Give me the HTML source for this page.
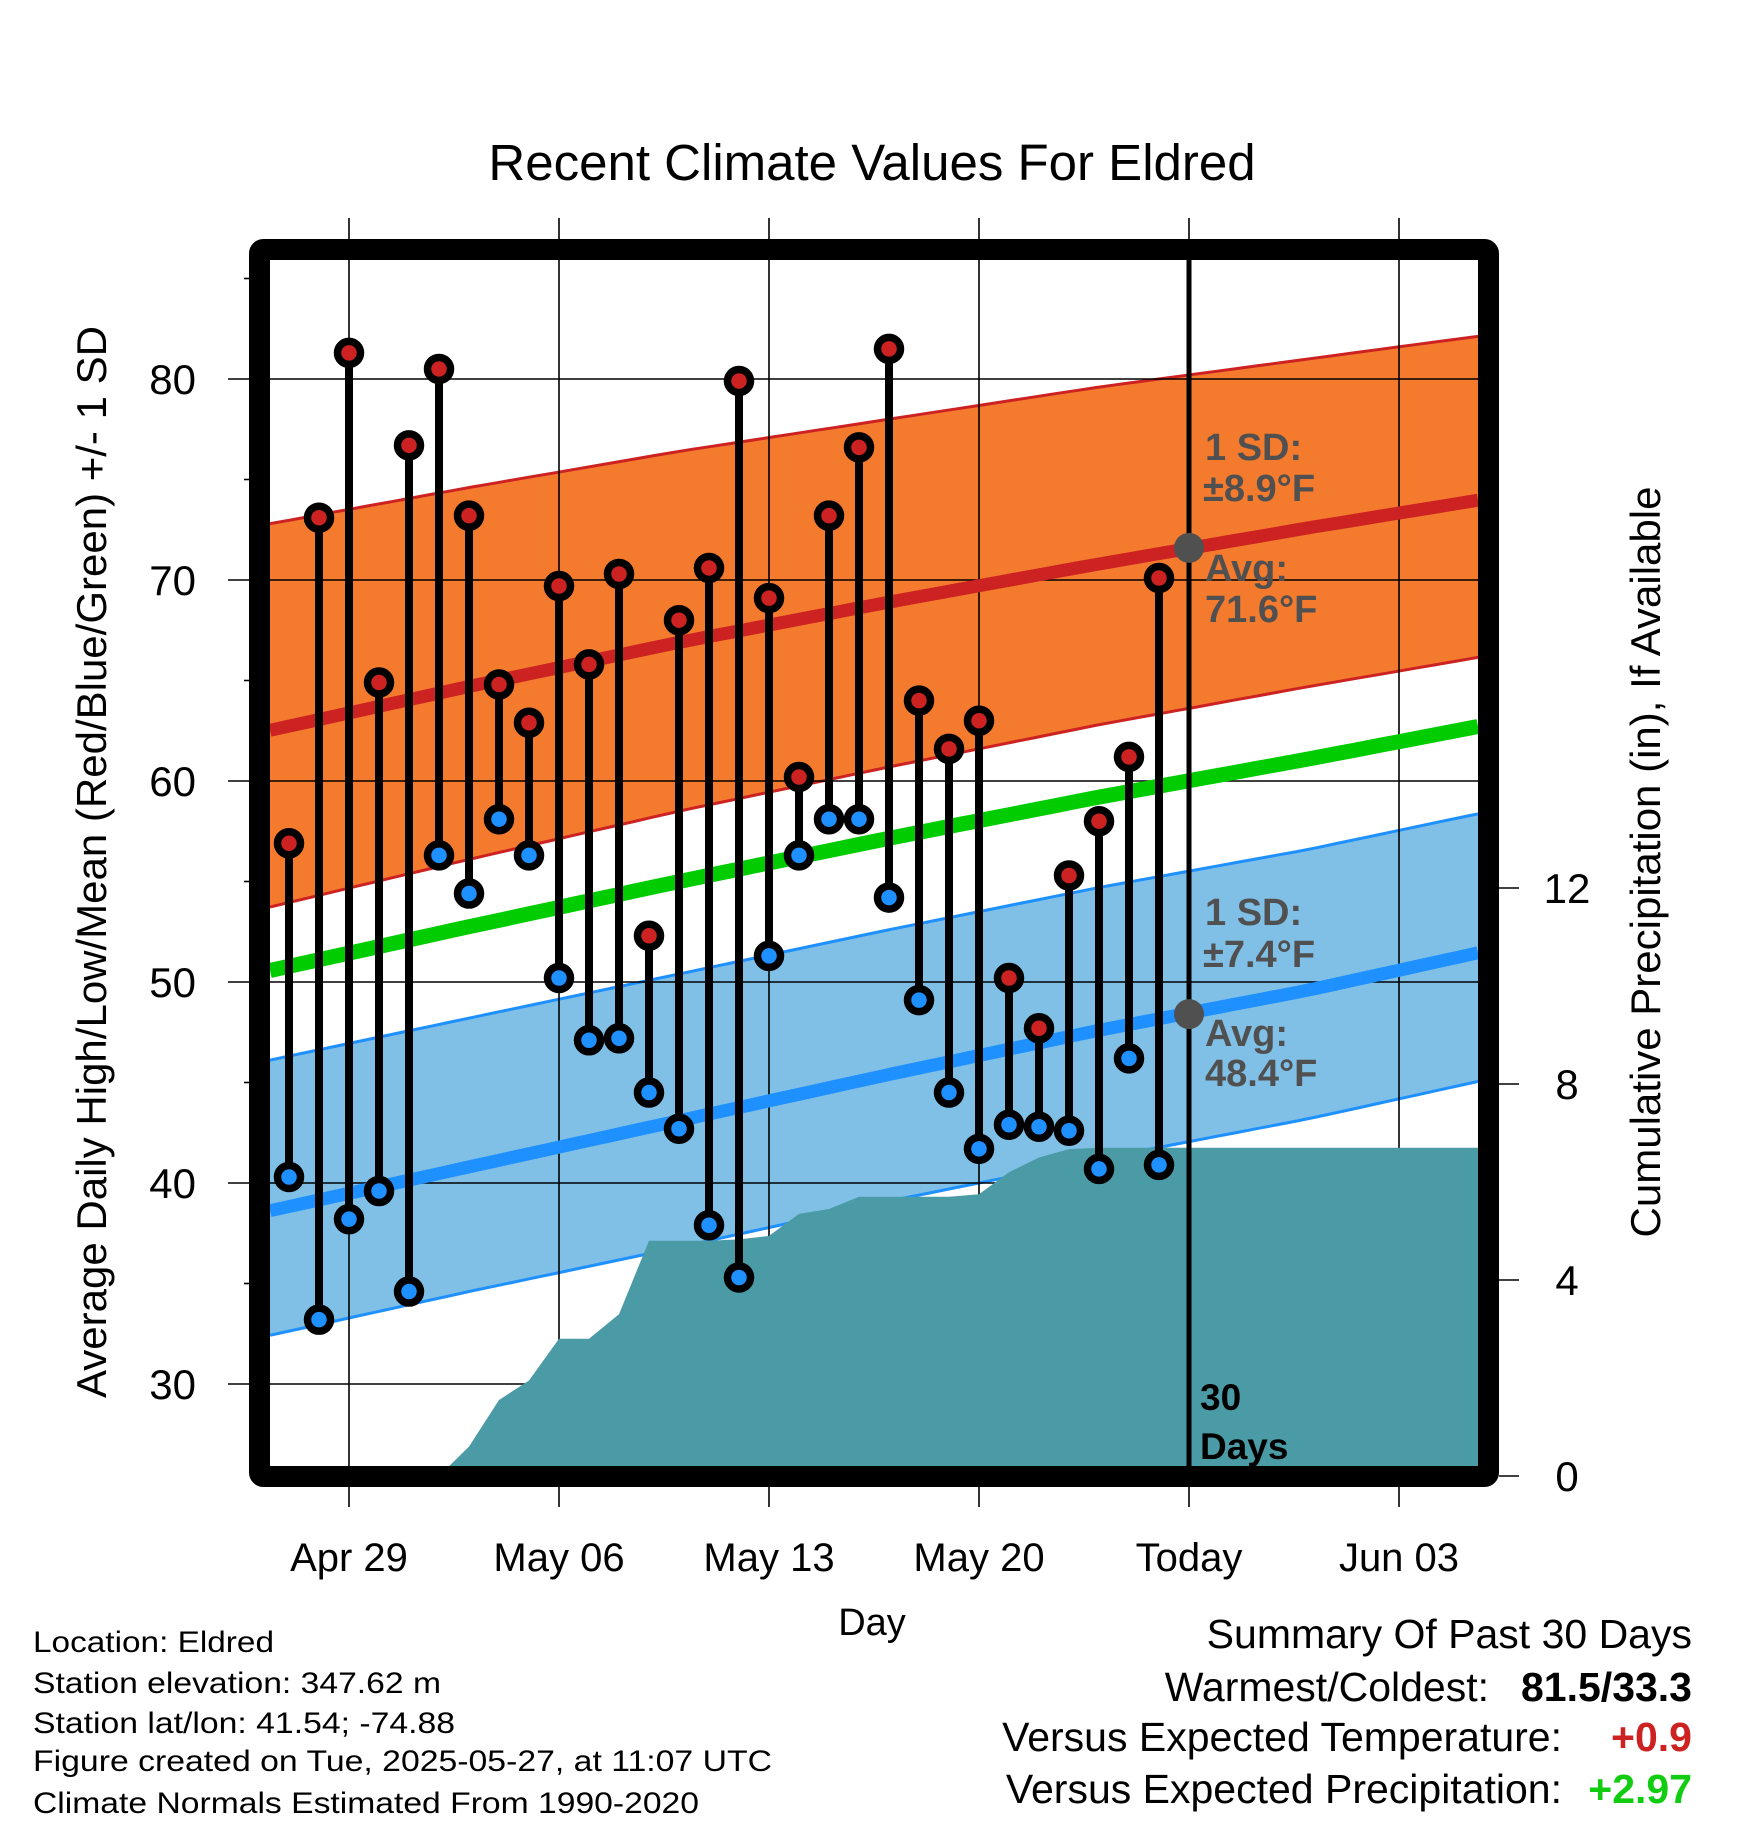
<!DOCTYPE html>
<html><head><meta charset="utf-8"><style>
html,body{margin:0;padding:0;background:#fff;}
svg{display:block;font-family:"Liberation Sans",Arial,sans-serif;}
</style></head><body>
<svg id="chart" width="1748" height="1828" viewBox="0 0 1748 1828" xmlns="http://www.w3.org/2000/svg">
<text x="872" y="180" font-size="51" text-anchor="middle">Recent Climate Values For Eldred</text>
<g id="plot"></g>
<text transform="translate(106,862) rotate(-90)" font-size="42" text-anchor="middle">Average Daily High/Low/Mean (Red/Blue/Green) +/- 1 SD</text>
<text transform="translate(1660,862) rotate(-90)" font-size="42" text-anchor="middle">Cumulative Precipitation (in), If Available</text>
<text x="872" y="1635" font-size="38" text-anchor="middle">Day</text>
<g font-size="30">
<text x="33" y="1652" textLength="241" lengthAdjust="spacingAndGlyphs">Location: Eldred</text>
<text x="33" y="1693" textLength="408" lengthAdjust="spacingAndGlyphs">Station elevation: 347.62 m</text>
<text x="33" y="1733" textLength="422" lengthAdjust="spacingAndGlyphs">Station lat/lon: 41.54; -74.88</text>
<text x="33" y="1771" textLength="739" lengthAdjust="spacingAndGlyphs">Figure created on Tue, 2025-05-27, at 11:07 UTC</text>
<text x="33" y="1813" textLength="666" lengthAdjust="spacingAndGlyphs">Climate Normals Estimated From 1990-2020</text>
</g>
<g font-size="41">
<text x="1692" y="1648" text-anchor="end">Summary Of Past 30 Days</text>
<text x="1489" y="1701" text-anchor="end">Warmest/Coldest:</text>
<text x="1692" y="1701" text-anchor="end" font-weight="bold">81.5/33.3</text>
<text x="1562" y="1751" text-anchor="end">Versus Expected Temperature:</text>
<text x="1692" y="1751" text-anchor="end" font-weight="bold" fill="#cc2222">+0.9</text>
<text x="1562" y="1803" text-anchor="end">Versus Expected Precipitation:</text>
<text x="1692" y="1803" text-anchor="end" font-weight="bold" fill="#11cc11">+2.97</text>
</g>
</svg>
<script>
// days offset from Apr 29; observations Apr 27 .. May 26
const obsDays = [-2,-1,0,1,2,3,4,5,6,7,8,9,10,11,12,13,14,15,16,17,18,19,20,21,22,23,24,25,26,27];
const highs = [56.9,73.1,81.3,64.9,76.7,80.5,73.2,64.8,62.9,69.7,65.8,70.3,52.3,68.0,70.6,79.9,69.1,60.2,73.2,76.6,81.5,64.0,61.6,63.0,50.2,47.7,55.3,58.0,61.2,70.1];
const lows = [40.3,33.2,38.2,39.6,34.6,56.3,54.4,58.1,56.3,50.2,47.1,47.2,44.5,42.7,37.9,35.3,51.3,56.3,58.1,58.1,54.2,49.1,44.5,41.7,42.9,42.8,42.6,40.7,46.2,40.9];
const precip = [0,0,0,0,0,0,0.6,1.55,1.95,2.8,2.8,3.3,4.8,4.8,4.8,4.83,4.9,5.35,5.45,5.7,5.7,5.7,5.7,5.75,6.2,6.5,6.67,6.7,6.7,6.7];
const normDays = [-3,4,11,18,25,32,39];
const normHigh = [62.4,64.7,66.9,68.9,70.8,72.6,74.3];
const sdHighUp = [10.3,9.9,9.5,9.1,8.8,8.4,8.1];
const sdHighDn = [8.8,8.6,8.4,8.2,8.0,7.9,7.8];
const normLow = [38.5,40.8,43.1,45.4,47.6,49.6,51.9];
const sdLowUp = [7.5,7.4,7.3,7.2,7.1,7.0,6.9];
const sdLowDn = [6.2,6.2,6.3,6.3,6.4,6.4,6.4];
const yTicks = [30,40,50,60,70,80];
const y2Ticks = [0,4,8,12];
const xTickDays = [0,7,14,21,28,35];
const xTickLabels = ["Apr 29","May 06","May 13","May 20","Today","Jun 03"];
const todayDay = 28;
const todayHighAvg = 71.6, todayLowAvg = 48.4;

const NS="http://www.w3.org/2000/svg";
const L=270,R=1478,T=260,B=1466;
const X=d=>349+30*d;
const Y=t=>580-(t-70)*20.1;
const YP=p=>1476-p*49;
const dMin=(L-349)/30, dMax=(R-349)/30;
const g=document.getElementById('plot');
function mk(tag,attrs,parent){const e=document.createElementNS(NS,tag);for(const k in attrs)e.setAttribute(k,attrs[k]);(parent||g).appendChild(e);return e;}
function interp(xs,ys,x){for(let i=0;i<xs.length-1;i++){if(x<=xs[i+1]||i==xs.length-2){const t=(x-xs[i])/(xs[i+1]-xs[i]);return ys[i]+t*(ys[i+1]-ys[i]);}}}
const samp=[];for(let i=0;i<=60;i++)samp.push(dMin+(dMax-dMin)*i/60);
const f=(arr,sd,s)=>d=>interp(normDays,arr,d)+s*(sd?interp(normDays,sd,d):0);
function pts(fn){return samp.map(d=>X(d).toFixed(1)+','+Y(fn(d)).toFixed(1));}
const clip=mk('clipPath',{id:'pc'});mk('rect',{x:L,y:T,width:R-L,height:B-T},clip);
const inner=mk('g',{'clip-path':'url(#pc)'});


function mkI(tag,attrs){return mk(tag,attrs,inner);}
function bandI(up,lo,fill,edge,name){
  const b=mkI('polygon',{points:pts(up).concat(pts(lo).reverse()).join(' '),fill:fill});
  
  
  const e1=mkI('polyline',{points:pts(up).join(' '),fill:'none',stroke:edge,'stroke-width':3});
  
  
  const e2=mkI('polyline',{points:pts(lo).join(' '),fill:'none',stroke:edge,'stroke-width':3});
  
  
}
bandI(f(normHigh,sdHighUp,1),f(normHigh,sdHighDn,-1),'#f47a2e','#cc2222','high-sd-band');
bandI(f(normLow,sdLowUp,1),f(normLow,sdLowDn,-1),'#80c0e6','#1e90ff','low-sd-band');
// grid
yTicks.forEach(t=>{const l=mk('line',{x1:228,x2:R,y1:Y(t),y2:Y(t),stroke:'#000','stroke-width':1.6});
  
  
  const tx=mk('text',{x:196,y:Y(t)+15,'font-size':42,'text-anchor':'end'});tx.textContent=t;
  
  });
for(let t=30;t<=85;t+=5){if(t%10)mk('line',{x1:244,x2:250,y1:Y(t),y2:Y(t),stroke:'#000','stroke-width':1.6});}
xTickDays.forEach((d,i)=>{const l=mk('line',{x1:X(d),x2:X(d),y1:218,y2:1507,stroke:'#000','stroke-width':1.6});
  
  
  const tx=mk('text',{x:X(d),y:1571,'font-size':40,'text-anchor':'middle'});tx.textContent=xTickLabels[i];
  
  });
y2Ticks.forEach(p=>{const l=mk('line',{x1:1499,x2:1519,y1:YP(p),y2:YP(p),stroke:'#000','stroke-width':1.6});
  
  
  const tx=mk('text',{x:1567,y:YP(p)+15,'font-size':42,'text-anchor':'middle'});tx.textContent=p;
  
  });
// precip area
(function(){
  const p=[X(dMin)+','+YP(0)];
  obsDays.forEach((d,i)=>p.push(X(d)+','+YP(precip[i])));
  p.push(R+','+YP(precip[precip.length-1]));p.push(R+','+(B+5));p.push(L+','+(B+5));
  const a=mk('polygon',{points:p.join(' '),fill:'#4a9ba5'});
  
  
})();
// avg lines
const lineH=mk('polyline',{points:pts(f(normHigh,null,0)).join(' '),fill:'none',stroke:'#cc2222','stroke-width':13});


const lineM=mk('polyline',{points:pts(d=>(interp(normDays,normHigh,d)+interp(normDays,normLow,d))/2).join(' '),fill:'none',stroke:'#00cc00','stroke-width':15});


const lineL=mk('polyline',{points:pts(f(normLow,null,0)).join(' '),fill:'none',stroke:'#1e90ff','stroke-width':13});


// today line
const tl=mk('line',{x1:X(todayDay),x2:X(todayDay),y1:T,y2:B,stroke:'#000','stroke-width':5});


const d1=mk('circle',{cx:X(todayDay),cy:Y(todayHighAvg),r:15,fill:'#505050'});


const d2=mk('circle',{cx:X(todayDay),cy:Y(todayLowAvg),r:15,fill:'#505050'});


// stems
obsDays.forEach((d,i)=>{
  const s=mk('line',{x1:X(d),x2:X(d),y1:Y(highs[i]),y2:Y(lows[i]),stroke:'#000','stroke-width':8});
  
  
  const h=mk('circle',{cx:X(d),cy:Y(highs[i]),r:11.5,fill:'#cc2222',stroke:'#000','stroke-width':7.5});
  
  
  const lo=mk('circle',{cx:X(d),cy:Y(lows[i]),r:11.5,fill:'#1e90ff',stroke:'#000','stroke-width':7.5});
  
  
});
// annotations
function ann(txt,x,y,col,name,fs){const t=mk('text',{x:x,y:y,'font-size':fs||38,'font-weight':'bold',fill:col});t.textContent=txt;
  
  }
ann('1 SD:',1205,460,'#505050','high-sd-label');
ann('\u00b18.9\u00b0F',1203,501,'#505050','high-sd-value');
ann('Avg:',1205,581,'#505050','high-avg-label');
ann('71.6\u00b0F',1205,622,'#505050','high-avg-value');
ann('1 SD:',1205,925,'#505050','low-sd-label');
ann('\u00b17.4\u00b0F',1203,967,'#505050','low-sd-value');
ann('Avg:',1205,1046,'#505050','low-avg-label');
ann('48.4\u00b0F',1205,1086,'#505050','low-avg-value');
ann('30',1200,1410,'#000','days-count',37);
ann('Days',1200,1459,'#000','days-label',37);
// frame
const fr=mk('rect',{x:259.5,y:249.5,width:1229,height:1227,fill:'none',stroke:'#000','stroke-width':21,rx:4});


</script>
</body></html>
